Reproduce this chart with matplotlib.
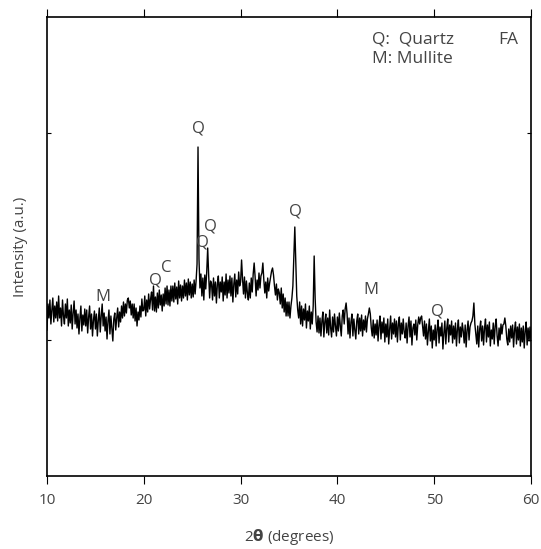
import numpy as np
import matplotlib
matplotlib.use('Agg')
import matplotlib.pyplot as plt

plt.rcParams['font.family'] = ['Open Sans', 'DejaVu Sans']

# 2theta from 10 to 60 deg, 0.1 deg step
two_theta = np.round(np.arange(10.0, 60.01, 0.1), 1)

intensity = np.array([
    146, 172, 158, 176, 152, 166, 178, 154, 170, 158,  # 10
    174, 155, 180, 158, 168, 150, 176, 160, 152, 172,  # 11
    158, 177, 150, 166, 153, 171, 147, 163, 175, 152,  # 12
    166, 148, 162, 142, 158, 170, 145, 161, 151, 167,  # 13
    150, 166, 143, 159, 170, 147, 162, 140, 156, 165,  # 14
    147, 162, 140, 156, 168, 144, 160, 172, 150, 163,  # 15
    145, 159, 137, 155, 166, 142, 160, 148, 135, 157,  # 16
    163, 146, 158, 168, 149, 164, 154, 170, 158, 174,  # 17
    160, 172, 163, 176, 178, 168, 175, 161, 172, 158,  # 18
    172, 155, 168, 150, 164, 156, 170, 159, 177, 165,  # 19
    166, 180, 160, 176, 164, 182, 167, 177, 184, 166,  # 20
    190, 165, 179, 164, 183, 168, 186, 171, 181, 165,  # 21
    182, 170, 188, 172, 190, 171, 186, 170, 190, 175,  # 22
    190, 174, 193, 177, 189, 172, 195, 178, 191, 175,  # 23
    190, 178, 196, 180, 193, 176, 197, 181, 194, 178,  # 24
    192, 179, 196, 182, 195, 212, 329, 217, 188, 202,  # 25
    180, 198, 176, 201, 187, 204, 228, 201, 178, 195,  # 26
    192, 176, 198, 180, 194, 173, 192, 200, 178, 194,  # 27
    184, 199, 175, 194, 181, 202, 178, 196, 183, 200,  # 28
    180, 198, 174, 192, 202, 179, 196, 182, 204, 190,  # 29
    194, 216, 197, 182, 199, 178, 195, 183, 176, 193,  # 30
    178, 198, 184, 202, 213, 199, 180, 196, 186, 203,  # 31
    188, 200, 203, 213, 196, 183, 194, 178, 198, 185,  # 32
    193, 199, 205, 208, 201, 190, 181, 192, 176, 187,  # 33
    183, 172, 188, 168, 182, 164, 178, 160, 174, 160,  # 34
    174, 158, 170, 178, 190, 220, 249, 215, 180, 166,  # 35
    158, 174, 152, 170, 150, 167, 156, 172, 148, 165,  # 36
    155, 170, 147, 164, 152, 170, 220, 178, 154, 144,  # 37
    160, 143, 158, 140, 155, 164, 139, 154, 162, 143,  # 38
    158, 141, 166, 148, 139, 159, 144, 162, 150, 140,  # 39
    159, 145, 163, 150, 140, 160, 166, 152, 167, 173,  # 40
    162, 142, 158, 138, 154, 162, 140, 157, 146, 137,  # 41
    155, 162, 142, 158, 145, 161, 140, 156, 146, 160,  # 42
    144, 157, 162, 168, 162, 148, 140, 156, 138, 152,  # 43
    141, 156, 135, 151, 160, 137, 154, 143, 158, 134,  # 44
    152, 139, 157, 132, 147, 160, 137, 153, 142, 157,  # 45
    139, 155, 134, 152, 159, 136, 153, 142, 157, 144,  # 46
    138, 153, 133, 150, 159, 139, 155, 131, 148, 152,  # 47
    141, 156, 136, 151, 159, 152, 158, 160, 150, 140,  # 48
    155, 137, 152, 131, 145, 157, 135, 150, 128, 146,  # 49
    136, 151, 130, 147, 156, 133, 149, 140, 153, 127,  # 50
    143, 155, 132, 148, 157, 134, 151, 141, 155, 133,  # 51
    150, 137, 153, 130, 147, 156, 133, 149, 139, 153,  # 52
    145, 133, 151, 129, 146, 155, 136, 149, 153, 155,  # 53
    160, 173, 152, 142, 132, 150, 129, 147, 155, 135,  # 54
    150, 131, 148, 157, 134, 151, 139, 154, 130, 146,  # 55
    137, 153, 132, 150, 157, 140, 130, 148, 136, 152,  # 56
    142, 151, 152, 158, 150, 137, 131, 147, 134, 150,  # 57
    138, 151, 129, 146, 154, 132, 149, 136, 152, 130,  # 58
    148, 134, 150, 128, 145, 154, 131, 148, 135, 149,  # 59
    135,                                               # 60
])

# phase labels: text, 2theta, intensity
peak_labels = ['Q', 'Q', 'Q', 'C', 'Q', 'M', 'Q', 'M', 'Q']
peak_x = [25.6, 26.9, 26.1, 22.3, 21.2, 15.8, 35.7, 43.5, 50.3]
peak_y = [348, 250, 234, 208, 195, 179, 265, 186, 164]

x_ticks = [10, 20, 30, 40, 50, 60]
y_ticks = [136, 343]

text_col = '#444444'

fig = plt.figure(figsize=(5.41, 5.49), dpi=100)
ax = fig.add_axes([0.0869, 0.133, 0.8946, 0.836])

ax.plot(two_theta, intensity, color='black', lw=1.0)

for t, x, y in zip(peak_labels, peak_x, peak_y):
    ax.text(x, y, t, ha='center', va='center', fontsize=12, color=text_col)

ax.text(0.671, 0.951, 'Q:  Quartz', transform=ax.transAxes, fontsize=12.5,
        color=text_col, va='center', ha='left')
ax.text(0.671, 0.909, 'M: Mullite', transform=ax.transAxes, fontsize=12.5,
        color=text_col, va='center', ha='left')
ax.text(0.952, 0.951, 'FA', transform=ax.transAxes, fontsize=12.5,
        color=text_col, va='center', ha='center')

ax.set_xlim(10, 60)
ax.set_ylim(0, 459)
ax.set_xticks(x_ticks)
ax.set_yticks(y_ticks)
ax.set_yticklabels([])
ax.tick_params(axis='x', direction='out', top=True, length=6, width=0.8,
               labelsize=11, labelcolor=text_col, pad=6)
ax.tick_params(axis='y', direction='in', right=True, length=3, width=0.8)
for s in ax.spines.values():
    s.set_linewidth(1.2)

ax.set_xlabel(r'2$\mathbf{\theta}$ (degrees)', fontsize=11, color=text_col,
              labelpad=14)
ax.set_ylabel('Intensity (a.u.)', fontsize=11, color=text_col, labelpad=10)

fig.savefig('out.png', dpi=100)
